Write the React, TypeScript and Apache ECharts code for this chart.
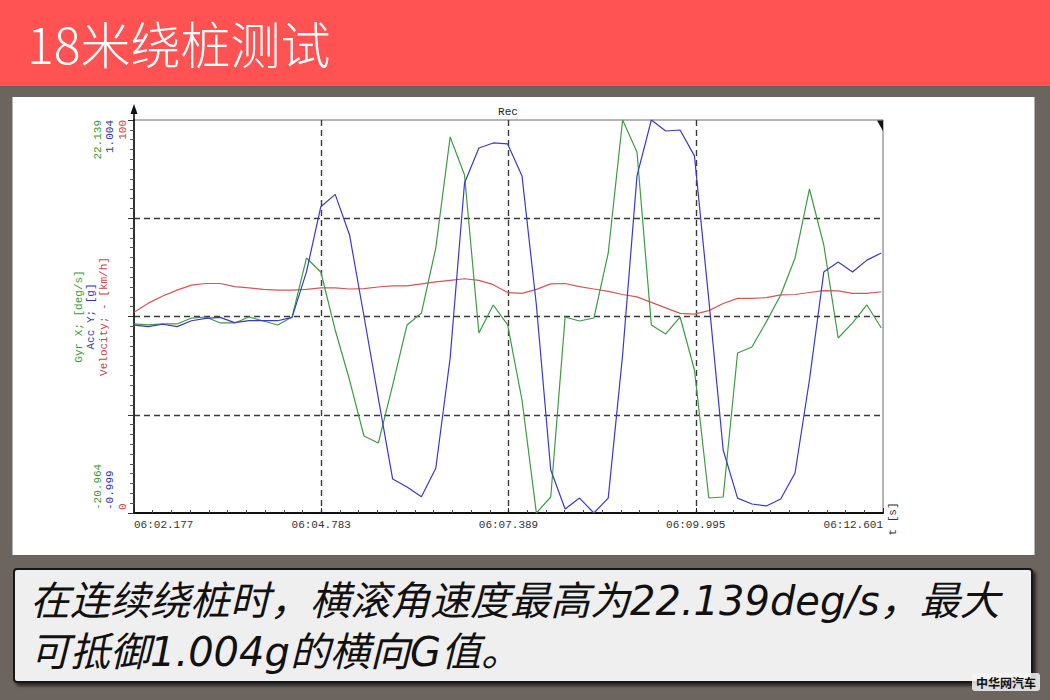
import React, { useEffect, useRef } from "react";
import * as echarts from "echarts";

// time offset (s) from 06:02.177
const timeOffsets = [
  0, 0.2, 0.4, 0.6, 0.8, 1.0, 1.2, 1.4, 1.6, 1.8, 2.0, 2.2, 2.4, 2.6, 2.8, 3.0, 3.2, 3.4,
  3.6, 3.8, 4.0, 4.2, 4.4, 4.6, 4.8, 5.0, 5.2, 5.4, 5.6, 5.8, 6.0, 6.2, 6.4, 6.6, 6.8, 7.0,
  7.2, 7.4, 7.6, 7.8, 8.0, 8.2, 8.4, 8.6, 8.8, 9.0, 9.2, 9.4, 9.6, 9.8, 10.0, 10.2, 10.4,
];

const gyrX = [
  -0.23, -0.34, -0.23, -0.23, 0.42, 0.53, -0.12, -0.12, 0.53, 0.09, -0.34, 0.53,
  7.0, 5.47, -0.89, -6.38, -12.52, -13.29, -6.93, -0.34, 0.97, 8.1, 20.28, 16.11,
  -1.22, 1.85, -0.34, -8.57, -20.964, -19.21, 0.53, 0.09, 0.42, 7.55, 22.139, 18.63,
  -0.34, -1.33, 0.53, -5.28, -19.32, -19.21, -3.41, -2.76, 0.0, 2.95, 7.0, 14.57,
  8.43, -1.77, -0.12, 1.85, -0.67,
];

const accY = [
  -0.041, -0.049, -0.037, -0.049, -0.019, -0.007, -0.002, -0.029, -0.019, -0.019, -0.019, -0.002,
  0.23, 0.562, 0.625, 0.418, 0.005, -0.413, -0.826, -0.866, -0.916, -0.771, -0.209, 0.683,
  0.861, 0.887, 0.882, 0.719, 0.061, -0.78, -0.979, -0.923, -0.999, -0.923, -0.194, 0.719,
  1.004, 0.948, 0.953, 0.821, 0.087, -0.678, -0.923, -0.953, -0.963, -0.928, -0.795, -0.321,
  0.229, 0.28, 0.229, 0.29, 0.326,
];

const velocity = [
  51.1, 53.4, 55.2, 56.7, 58.0, 58.4, 58.4, 57.6, 57.3, 56.9, 56.7, 56.7,
  56.9, 57.3, 57.3, 57.0, 57.1, 57.5, 57.8, 57.8, 58.3, 58.8, 59.2, 59.6,
  59.2, 58.1, 56.1, 55.9, 56.9, 58.3, 58.4, 57.6, 57.0, 56.4, 55.6, 55.0,
  53.6, 52.2, 50.8, 50.6, 51.5, 53.3, 54.6, 54.6, 54.8, 55.5, 55.6, 56.1,
  56.6, 56.5, 55.9, 55.9, 56.3,
];

const xTickLabels = ["06:02.177", "06:04.783", "06:07.389", "06:09.995", "06:12.601"];
const xStep = 2.606;
const xMax = 10.424;

const gyrRange = [-20.964, 22.139];
const gyrTickLabels = ["-20.964", "22.139"];
const accRange = [-0.999, 1.004];
const accTickLabels = ["-0.999", "1.004"];
const velRange = [0, 100];
const velTickLabels = ["0", "100"];

const GREEN = "#3f9a45";
const BLUE = "#3a3ac4";
const RED = "#d65656";
const GREEN_T = "#3c9a3c";
const BLUE_T = "#3434b4";
const RED_T = "#cc4646";
const MONO = "Liberation Mono";
const CW = 6.6;

function endLabel(range: number[], labels: string[], color: string, margin: number) {
  const base = { color, fontFamily: MONO, fontSize: 11 };
  return {
    show: true,
    customValues: range,
    rotate: 90,
    margin,
    color,
    fontFamily: MONO,
    fontSize: 11,
    formatter: (v: number) =>
      Math.abs(v - range[1]) < 1e-9 ? `{t|${labels[1]}}` : `{b|${labels[0]}}`,
    rich: {
      t: { ...base, padding: [0, labels[1].length * CW, 0, 0] },
      b: { ...base, padding: [0, 0, 0, labels[0].length * CW + 6] },
    },
  };
}

const capCJK = {
  fontSize: 40,
  lineHeight: 42,
  fontStyle: "italic",
  fontFamily: '"DejaVu Sans", "Noto Sans CJK SC"',
  fill: "#111",
  color: "#111",
};
const capLatin = {
  fontSize: 40,
  lineHeight: 42,
  fontStyle: "italic",
  fontFamily: "DejaVu Sans",
  fill: "#111",
  color: "#111",
};

function buildOption() {
  const dash = { color: "#3a3a3a", type: [6, 4], width: 1.4 };
  const xBase = { color: "#333", fontFamily: MONO, fontSize: 11 };
  const lw = xTickLabels[0].length * CW;
  return {
    animation: false,
    backgroundColor: "#6b645f",
    title: {
      text: "18米绕桩测试",
      left: 27,
      top: 17,
      padding: 0,
      textStyle: {
        color: "#ffffff",
        fontSize: 50,
        fontWeight: 300,
        fontFamily: "Noto Sans CJK SC",
      },
    },
    grid: {
      left: 134,
      top: 120,
      width: 749,
      height: 393,
      show: true,
      borderColor: "#6a6a6a",
      borderWidth: 1,
      backgroundColor: "transparent",
    },
    xAxis: {
      type: "value",
      min: 0,
      max: xMax,
      interval: xStep,
      axisLine: { show: true, lineStyle: { color: "#111", width: 2 } },
      axisTick: { show: true, inside: true, length: 5, lineStyle: { color: "#222" } },
      minorTick: { show: true, splitNumber: 10, length: 3, lineStyle: { color: "#444" } },
      splitLine: { show: true, showMinLine: false, showMaxLine: false, lineStyle: dash },
      axisLabel: {
        margin: 6,
        ...xBase,
        formatter: (v: number) => {
          const i = Math.round(v / xStep);
          const s = xTickLabels[i] ?? "";
          if (i === 0) return `{l|${s}}`;
          if (i === xTickLabels.length - 1) return `{r|${s}}`;
          return `{c|${s}}`;
        },
        rich: {
          l: { ...xBase, padding: [0, 0, 0, lw] },
          r: { ...xBase, padding: [0, lw, 0, 0] },
          c: { ...xBase },
        },
      },
    },
    yAxis: [
      {
        type: "value",
        position: "left",
        min: velRange[0],
        max: velRange[1],
        interval: 25,
        name: "Velocity; - [km/h]",
        nameLocation: "middle",
        nameRotate: 90,
        nameGap: 6,
        nameTextStyle: { color: RED_T, fontFamily: MONO, fontSize: 11 },
        axisLine: { show: true, lineStyle: { color: "#111", width: 1.6 } },
        axisTick: { show: true, length: 6, lineStyle: { color: "#333" } },
        minorTick: { show: true, splitNumber: 10, length: 4, lineStyle: { color: "#555" } },
        splitLine: { show: true, showMinLine: false, showMaxLine: false, lineStyle: dash },
        axisLabel: endLabel(velRange, velTickLabels, RED_T, 6),
      },
      {
        type: "value",
        position: "left",
        min: gyrRange[0],
        max: gyrRange[1],
        name: "Gyr X; [deg/s]",
        nameLocation: "middle",
        nameRotate: 90,
        nameGap: 31,
        nameTextStyle: { color: GREEN_T, fontFamily: MONO, fontSize: 11 },
        axisLine: { show: false },
        axisTick: { show: false },
        splitLine: { show: false },
        axisLabel: endLabel(gyrRange, gyrTickLabels, GREEN_T, 31),
      },
      {
        type: "value",
        position: "left",
        min: accRange[0],
        max: accRange[1],
        name: "Acc Y; [g]",
        nameLocation: "middle",
        nameRotate: 90,
        nameGap: 19,
        nameTextStyle: { color: BLUE_T, fontFamily: MONO, fontSize: 11 },
        axisLine: { show: false },
        axisTick: { show: false },
        splitLine: { show: false },
        axisLabel: endLabel(accRange, accTickLabels, BLUE_T, 19),
      },
    ],
    series: [
      {
        name: "Velocity",
        type: "line",
        yAxisIndex: 0,
        showSymbol: false,
        lineStyle: { color: RED, width: 1.2 },
        data: timeOffsets.map((t, i) => [t, velocity[i]]),
      },
      {
        name: "Gyr X",
        type: "line",
        yAxisIndex: 1,
        showSymbol: false,
        lineStyle: { color: GREEN, width: 1.2 },
        data: timeOffsets.map((t, i) => [t, gyrX[i]]),
      },
      {
        name: "Acc Y",
        type: "line",
        yAxisIndex: 2,
        showSymbol: false,
        lineStyle: { color: BLUE, width: 1.2 },
        data: timeOffsets.map((t, i) => [t, accY[i]]),
      },
    ],
    graphic: [
      { type: "rect", z: -10, shape: { x: 0, y: 0, width: 1050, height: 86 }, style: { fill: "#ff5353" } },
      { type: "rect", z: -10, shape: { x: 12.5, y: 97, width: 1022, height: 458 }, style: { fill: "#ffffff" } },
      {
        type: "rect",
        z: -9,
        shape: { x: 14, y: 569, width: 1018, height: 113, r: 3 },
        style: {
          fill: "#efefef",
          stroke: "#151515",
          lineWidth: 2,
          shadowBlur: 3,
          shadowOffsetX: 3,
          shadowOffsetY: 3,
          shadowColor: "rgba(0,0,0,0.6)",
        },
      },
      {
        type: "text",
        z: 10,
        x: 30,
        y: 601,
        style: {
          text: "{c|在连续绕桩时，横滚角速度最高为}{l|22.139deg/s}{c|，最大}",
          rich: { c: capCJK, l: capLatin },
          lineHeight: 42,
          verticalAlign: "middle",
          align: "left",
        },
      },
      {
        type: "text",
        z: 10,
        x: 30,
        y: 652,
        style: {
          text: "{c|可抵御}{l|1.004g}{c|的横向}{l|G}{c|值。}",
          rich: { c: capCJK, l: capLatin },
          lineHeight: 42,
          verticalAlign: "middle",
          align: "left",
        },
      },
      {
        type: "rect",
        z: 10,
        shape: { x: 972, y: 673, width: 68, height: 18, r: 3 },
        style: { fill: "rgba(245,245,245,0.85)" },
      },
      {
        type: "text",
        z: 11,
        x: 1006,
        y: 682,
        style: {
          text: "中华网汽车",
          fontSize: 12,
          fontWeight: "bold",
          fontFamily: "Noto Sans CJK SC",
          fill: "#111",
          align: "center",
          verticalAlign: "middle",
        },
      },
      {
        type: "polygon",
        z: 10,
        shape: { points: [[130.5, 114], [137.5, 114], [134, 104]] },
        style: { fill: "#111" },
      },
      {
        type: "line",
        z: 10,
        shape: { x1: 134, y1: 113, x2: 134, y2: 121 },
        style: { stroke: "#111", lineWidth: 1.6 },
      },
      {
        type: "polygon",
        z: 10,
        shape: { points: [[877, 120.5], [883, 120.5], [883, 131]] },
        style: { fill: "#111" },
      },
      {
        type: "text",
        z: 10,
        x: 508,
        y: 112,
        style: {
          text: "Rec",
          fontSize: 11,
          fontFamily: MONO,
          fill: "#222",
          align: "center",
          verticalAlign: "middle",
        },
      },
      {
        type: "text",
        z: 10,
        x: 893,
        y: 519,
        rotation: Math.PI / 2,
        style: {
          text: "t [s]",
          fontSize: 11,
          fontFamily: MONO,
          fill: "#333",
          align: "center",
          verticalAlign: "middle",
        },
      },
    ],
  };
}

export default function App() {
  const ref = useRef<HTMLDivElement>(null);
  useEffect(() => {
    if (!ref.current) return;
    const chart = echarts.init(ref.current, null, { renderer: "svg" });
    chart.setOption(buildOption() as any);
    return () => chart.dispose();
  }, []);
  return (
    <div
      ref={ref}
      style={{ position: "fixed", left: 0, top: 0, width: 1050, height: 700 }}
    />
  );
}
